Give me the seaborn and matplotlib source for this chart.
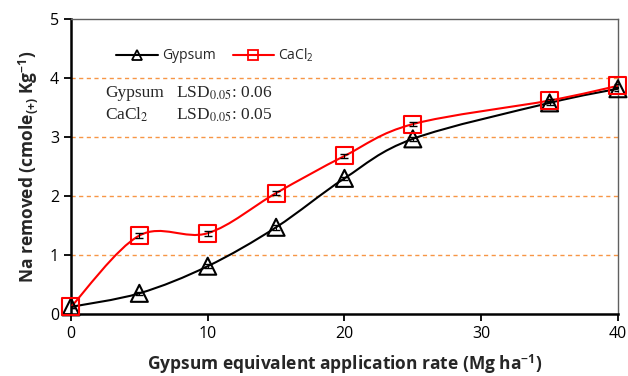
import matplotlib
matplotlib.use("Agg")
import matplotlib.pyplot as plt
import seaborn as sns
import numpy as np
from matplotlib.path import Path
from matplotlib.patches import PathPatch
from matplotlib.lines import Line2D

rate = [0, 5, 10, 15, 20, 25, 35, 40]
gypsum = [0.12, 0.35, 0.81, 1.47, 2.30, 2.97, 3.58, 3.82]
cacl2 = [0.12, 1.33, 1.37, 2.05, 2.68, 3.22, 3.62, 3.87]
gypsum_err = [0.02, 0.03, 0.03, 0.04, 0.03, 0.03, 0.03, 0.03]
cacl2_err = [0.02, 0.04, 0.04, 0.03, 0.03, 0.03, 0.03, 0.03]


def smooth_path(x, y, t=1/6):
    # excel style smoothed line: catmull-rom turned into bezier segments
    x = np.asarray(x, float)
    y = np.asarray(y, float)
    verts = [(x[0], y[0])]
    codes = [Path.MOVETO]
    n = len(x)
    for i in range(n - 1):
        i0 = max(i - 1, 0)
        i3 = min(i + 2, n - 1)
        c1 = (x[i] + (x[i + 1] - x[i0]) * t, y[i] + (y[i + 1] - y[i0]) * t)
        c2 = (x[i + 1] - (x[i3] - x[i]) * t, y[i + 1] - (y[i3] - y[i]) * t)
        verts += [c1, c2, (x[i + 1], y[i + 1])]
        codes += [Path.CURVE4] * 3
    return Path(verts, codes)


sns.set_style("ticks")
plt.rcParams['font.family'] = ['Open Sans', 'DejaVu Sans']
plt.rcParams['mathtext.fontset'] = 'custom'
plt.rcParams['mathtext.rm'] = 'Open Sans'
plt.rcParams['mathtext.bf'] = 'Open Sans:bold'
plt.rcParams['mathtext.it'] = 'Open Sans:italic'

fig = plt.figure(figsize=(6.28, 3.76), dpi=100)
ax = fig.add_axes([0.113, 0.165, 0.871, 0.784])

for yv in [1, 2, 3, 4]:
    ax.axhline(yv, color='#f79646', ls=(0, (3, 2.5)), lw=1.0, zorder=1)

ax.add_patch(PathPatch(smooth_path(rate, gypsum), fc='none', ec='black', lw=1.5, zorder=3))
ax.add_patch(PathPatch(smooth_path(rate, cacl2), fc='none', ec='red', lw=1.5, zorder=4))

ax.errorbar(rate, gypsum, yerr=gypsum_err, fmt='none', ecolor='black', elinewidth=0.8, capsize=3, zorder=5)
ax.errorbar(rate, cacl2, yerr=cacl2_err, fmt='none', ecolor='black', elinewidth=0.8, capsize=3, zorder=5)
sns.scatterplot(x=rate, y=gypsum, marker='^', s=150, facecolor='none', edgecolor='black',
                linewidth=1.5, ax=ax, zorder=6, clip_on=False)
sns.scatterplot(x=rate, y=cacl2, marker='s', s=150, facecolor='none', edgecolor='red',
                linewidth=1.5, ax=ax, zorder=7, clip_on=False)

ax.set_xlim(0, 40)
ax.set_ylim(0, 5)
ax.set_xticks([0, 10, 20, 30, 40])
ax.set_yticks([0, 1, 2, 3, 4, 5])
ax.tick_params(axis='both', labelsize=11.5, direction='out', length=5, width=1.3, colors='black')
for s in ['left', 'bottom']:
    ax.spines[s].set_linewidth(1.8)
    ax.spines[s].set_color('black')
for s in ['top', 'right']:
    ax.spines[s].set_visible(True)
    ax.spines[s].set_linewidth(1.0)
    ax.spines[s].set_color('#606060')

ax.set_xlabel('Gypsum equivalent application rate (Mg ha$^{\\mathbf{-1}}$)',
              fontsize=12.5, fontweight='bold', labelpad=8)
ax.set_ylabel('Na removed (cmole$_{\\mathbf{(+)}}$ Kg$^{\\mathbf{-1}}$)',
              fontsize=12.5, fontweight='bold', labelpad=7)

handles = [Line2D([], [], color='black', lw=1.5, marker='^', ms=7, mfc='none', mew=1.3),
           Line2D([], [], color='red', lw=1.5, marker='s', ms=7, mfc='none', mew=1.3)]
ax.legend(handles, ['Gypsum', 'CaCl$_2$'], loc='upper left', bbox_to_anchor=(0.06, 0.95),
          ncol=2, frameon=False, fontsize=10, handlelength=3, columnspacing=1.2, handletextpad=0.3)

serif = {'family': ['Liberation Serif', 'DejaVu Serif'], 'size': 12.5, 'math_fontfamily': 'stix'}
ax.text(2.5, 3.75, 'Gypsum', fontdict=serif, va='center')
ax.text(7.7, 3.75, 'LSD$_{0.05}$: 0.06', fontdict=serif, va='center')
ax.text(2.5, 3.37, 'CaCl$_2$', fontdict=serif, va='center')
ax.text(7.7, 3.37, 'LSD$_{0.05}$: 0.05', fontdict=serif, va='center')

fig.savefig('out.png', dpi=100)
